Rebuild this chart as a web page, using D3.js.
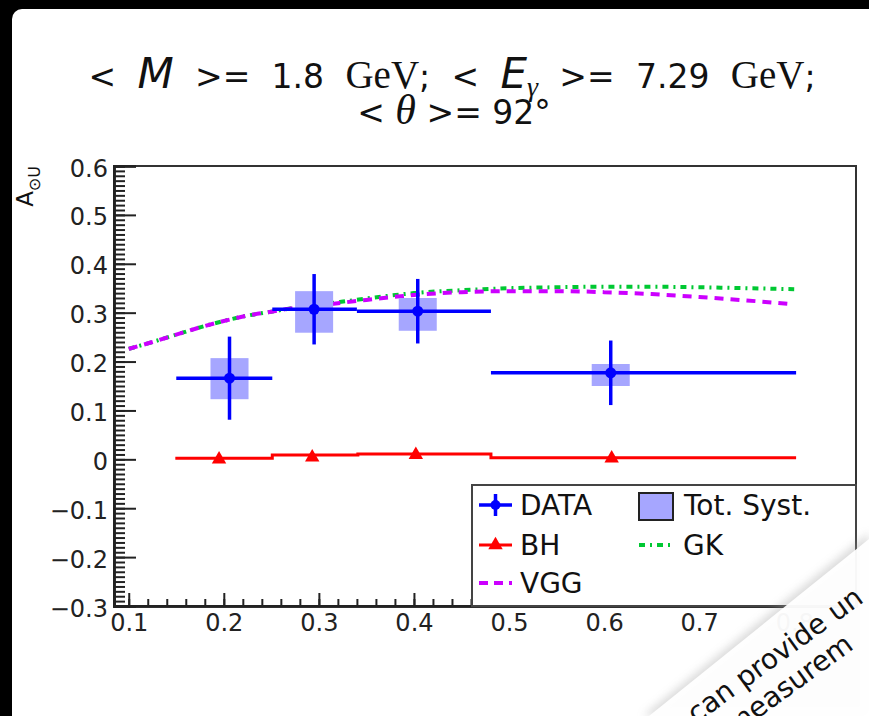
<!DOCTYPE html>
<html><head><meta charset="utf-8">
<script src="https://cdn.jsdelivr.net/npm/d3@7"></script>
<style>body{margin:0;background:#000;} svg{display:block}</style>
</head><body>
<svg id="c" width="869" height="716"></svg>
<script>
// ---- data ----
const dataX=[0.206,0.295,0.404,0.607];
const dataY=[0.166,0.307,0.303,0.177];
const dataXlo=[0.150,0.251,0.340,0.481];
const dataXhi=[0.251,0.340,0.481,0.802];
const dataStat=[0.085,0.072,0.066,0.066];
const systHi=[0.207,0.344,0.330,0.195];
const systLo=[0.123,0.259,0.263,0.150];
const systHalfW=0.02;
const bhX=[0.195,0.293,0.402,0.608];
const bhY=[0.000,0.004,0.009,0.002];
const bhEdges=[0.149,0.251,0.341,0.481,0.802];
const bhLevels=[0.002,0.009,0.011,0.003];
const curveX=[0.10,0.125,0.15,0.175,0.20,0.225,0.25,0.275,0.30,0.35,0.40,0.45,0.50,0.55,0.60,0.65,0.70,0.75,0.80];
const vggY=[0.226,0.240,0.255,0.270,0.283,0.294,0.302,0.310,0.315,0.326,0.336,0.342,0.344,0.344,0.342,0.338,0.332,0.325,0.317];
const gkY=[0.226,0.240,0.255,0.270,0.283,0.294,0.302,0.310,0.316,0.329,0.340,0.346,0.350,0.352,0.353,0.353,0.352,0.350,0.348];
const xTicks=[0.1,0.2,0.3,0.4,0.5,0.6,0.7,0.8];
const xTickLabels=["0.1","0.2","0.3","0.4","0.5","0.6","0.7","0.8"];
const yTicks=[-0.3,-0.2,-0.1,0,0.1,0.2,0.3,0.4,0.5,0.6];
const yTickLabels=["\u22120.3","\u22120.2","\u22120.1","0","0.1","0.2","0.3","0.4","0.5","0.6"];
const legendNames=["DATA","Tot. Syst.","BH","GK","VGG"];

// ---- layout ----
const svg=d3.select("#c");
const L=114,R=856,T=166,B=606;
const x=d3.scaleLinear().domain([0.0845,0.865]).range([L,R]);
const y=d3.scaleLinear().domain([-0.3,0.6]).range([B,T]);
const BLUE="#0000ff",RED="#ff0000",GREEN="#00c832",MAG="#cc00ff",SYST="#a6a6ff";
const SANS="'DejaVu Sans', Verdana, sans-serif";
const SERIF="'Liberation Serif','Times New Roman',serif";

svg.append("rect").attr("x",0).attr("y",0).attr("width",869).attr("height",716).attr("fill","#000");
svg.append("rect").attr("x",12).attr("y",9).attr("width",880).attr("height",740).attr("rx",10).attr("fill","#fff");

// title
const t1=svg.append("text").attr("x",452).attr("y",88).attr("text-anchor","middle")
  .attr("font-family",SANS).attr("font-size",33).attr("fill","#111");
t1.append("tspan").text("< ");
t1.append("tspan").attr("font-style","italic").attr("font-size",42).text("M");
t1.append("tspan").text(" >= 1.8 ");
t1.append("tspan").attr("font-family",SERIF).attr("font-size",39).text("GeV");
t1.append("tspan").text("; < ");
t1.append("tspan").attr("font-style","italic").attr("font-size",42).text("E");
t1.append("tspan").attr("font-family",SERIF).attr("font-style","italic").attr("font-size",28).attr("dy",8).text("\u03b3");
t1.append("tspan").attr("dy",-8).text(" >= 7.29 ");
t1.append("tspan").attr("font-family",SERIF).attr("font-size",39).text("GeV");
t1.append("tspan").text(";");
const natural=t1.node().getComputedTextLength();
t1.attr("word-spacing",Math.max(0,(727-natural)/9));

const t2=svg.append("text").attr("x",454).attr("y",124).attr("text-anchor","middle")
  .attr("font-family",SANS).attr("font-size",33).attr("fill","#111");
t2.append("tspan").text("< ");
t2.append("tspan").attr("font-family",SERIF).attr("font-style","italic").attr("font-size",42).text("\u03b8");
t2.append("tspan").text(" >= 92\u00b0");

// y title
const yt=svg.append("text").attr("transform","translate(33,166) rotate(-90)").attr("text-anchor","end")
  .attr("font-family",SANS).attr("font-size",23).attr("fill","#111");
yt.append("tspan").text("A");
yt.append("tspan").attr("font-size",16).attr("dy",7).text("\u2299U");

// frame
svg.append("rect").attr("x",L).attr("y",T).attr("width",R-L).attr("height",B-T)
  .attr("fill","none").attr("stroke","#333").attr("stroke-width",2);

// curves
const line=d3.line().x(d=>x(d[0])).y(d=>y(d[1])).curve(d3.curveMonotoneX);
svg.append("path").attr("d",line(curveX.map((v,i)=>[v,gkY[i]])))
  .attr("fill","none").attr("stroke",GREEN).attr("stroke-width",4).attr("stroke-dasharray","6,5,2,5");
svg.append("path").attr("d",line(curveX.map((v,i)=>[v,vggY[i]])))
  .attr("fill","none").attr("stroke",MAG).attr("stroke-width",4).attr("stroke-dasharray","9,7");

// BH steps
const stepPts=[];
bhLevels.forEach((v,i)=>{stepPts.push([bhEdges[i],v]);stepPts.push([bhEdges[i+1],v]);});
svg.append("path").attr("d",d3.line().x(d=>x(d[0])).y(d=>y(d[1]))(stepPts))
  .attr("fill","none").attr("stroke",RED).attr("stroke-width",3);
const tri=d3.symbol().type(d3.symbolTriangle).size(90);
svg.selectAll(".bh").data(bhX).join("path").attr("d",tri)
  .attr("transform",(d,i)=>`translate(${x(d)},${y(bhY[i])})`).attr("fill",RED);

// syst boxes
svg.selectAll(".syst").data(dataX).join("rect")
  .attr("x",d=>x(d-systHalfW)).attr("width",d=>x(d+systHalfW)-x(d-systHalfW))
  .attr("y",(d,i)=>y(systHi[i])).attr("height",(d,i)=>y(systLo[i])-y(systHi[i]))
  .attr("fill",SYST);

// data
const dg=svg.append("g").attr("stroke",BLUE).attr("stroke-width",3.5);
dataX.forEach((d,i)=>{
  dg.append("line").attr("x1",x(dataXlo[i])).attr("x2",x(dataXhi[i])).attr("y1",y(dataY[i])).attr("y2",y(dataY[i]));
  dg.append("line").attr("x1",x(d)).attr("x2",x(d)).attr("y1",y(dataY[i]+dataStat[i])).attr("y2",y(dataY[i]-dataStat[i]));
});
svg.selectAll(".pt").data(dataX).join("circle").attr("cx",d=>x(d)).attr("cy",(d,i)=>y(dataY[i])).attr("r",5.5).attr("fill",BLUE);

// axes
const yAx=svg.append("g").attr("transform",`translate(${L},0)`)
  .call(d3.axisLeft(y).tickValues(yTicks).tickSize(-22).tickPadding(6).tickFormat((d,i)=>yTickLabels[i]));
const yMinor=svg.append("g").attr("transform",`translate(${L},0)`)
  .call(d3.axisLeft(y).tickValues(d3.range(-30,61).map(k=>k/100)).tickSize(-11).tickFormat(""));
const xAx=svg.append("g").attr("transform",`translate(0,${B})`)
  .call(d3.axisBottom(x).tickValues(xTicks).tickSize(-13).tickPadding(8).tickFormat((d,i)=>xTickLabels[i]));
const xMinor=svg.append("g").attr("transform",`translate(0,${B})`)
  .call(d3.axisBottom(x).tickValues(d3.range(5,43).map(k=>k/50)).tickSize(-7).tickFormat(""));
[yAx,yMinor,xAx,xMinor].forEach(g=>{
  g.select(".domain").attr("stroke","#222").attr("stroke-width",2.5);
  g.selectAll(".tick line").attr("stroke","#222").attr("stroke-width",2);
  g.selectAll("text").attr("font-family",SANS).attr("font-size",24).attr("fill","#222");
});
yAx.selectAll("text").attr("dy","0.42em");
xAx.selectAll("text").attr("dy","0.72em");

// legend
const lg=svg.append("g");
lg.append("rect").attr("x",472).attr("y",485).attr("width",R-472).attr("height",B-485)
  .attr("fill","#fff").attr("stroke","#444").attr("stroke-width",2);
const rowY=[505,545,583];
const lt=(tx,ty,s)=>lg.append("text").attr("x",tx).attr("y",ty).attr("dy","0.36em").attr("font-family",SANS).attr("font-size",28).attr("fill","#111").text(s);
lg.append("line").attr("x1",479).attr("x2",512).attr("y1",rowY[0]).attr("y2",rowY[0]).attr("stroke",BLUE).attr("stroke-width",3.5);
lg.append("line").attr("x1",495.5).attr("x2",495.5).attr("y1",rowY[0]-11).attr("y2",rowY[0]+11).attr("stroke",BLUE).attr("stroke-width",3.5);
lg.append("circle").attr("cx",495.5).attr("cy",rowY[0]).attr("r",5).attr("fill",BLUE);
lt(520,rowY[0],legendNames[0]);
lg.append("rect").attr("x",639).attr("y",493).attr("width",34).attr("height",27).attr("fill",SYST).attr("stroke","#222").attr("stroke-width",2);
lt(684,rowY[0],legendNames[1]);
lg.append("line").attr("x1",479).attr("x2",512).attr("y1",rowY[1]).attr("y2",rowY[1]).attr("stroke",RED).attr("stroke-width",3);
lg.append("path").attr("d",tri).attr("transform",`translate(495.5,${rowY[1]})`).attr("fill",RED);
lt(520,rowY[1],legendNames[2]);
lg.append("line").attr("x1",639).attr("x2",673).attr("y1",rowY[1]).attr("y2",rowY[1]).attr("stroke",GREEN).attr("stroke-width",4).attr("stroke-dasharray","6,5,2,5");
lt(683,rowY[1],legendNames[3]);
lg.append("line").attr("x1",479).attr("x2",512).attr("y1",rowY[2]).attr("y2",rowY[2]).attr("stroke",MAG).attr("stroke-width",4).attr("stroke-dasharray","9,6");
lt(520,rowY[2],legendNames[4]);

// overlapping slide corner
const defs=svg.append("defs");
defs.append("clipPath").attr("id","pg").append("polygon").attr("points","645,716 869,536 869,716");
defs.append("filter").attr("id","sh").attr("x","-20%").attr("y","-20%").attr("width","140%").attr("height","140%")
  .append("feGaussianBlur").attr("stdDeviation",4);
svg.append("polygon").attr("points","643,716 869,533 869,716").attr("fill","#999").attr("opacity",0.35).attr("filter","url(#sh)");
svg.append("polygon").attr("points","649,716 869,539 869,716").attr("fill","#fff").attr("opacity",0.95);
const og=svg.append("g").attr("clip-path","url(#pg)");
og.append("text").attr("transform","translate(696,724) rotate(-36)").attr("font-family",SANS)
  .attr("font-size",28).attr("fill","#111").text("can provide un");
og.append("text").attr("transform","translate(734,736) rotate(-36)").attr("font-family",SANS)
  .attr("font-size",28).attr("fill","#111").text("measurem");
</script>
</body></html>
